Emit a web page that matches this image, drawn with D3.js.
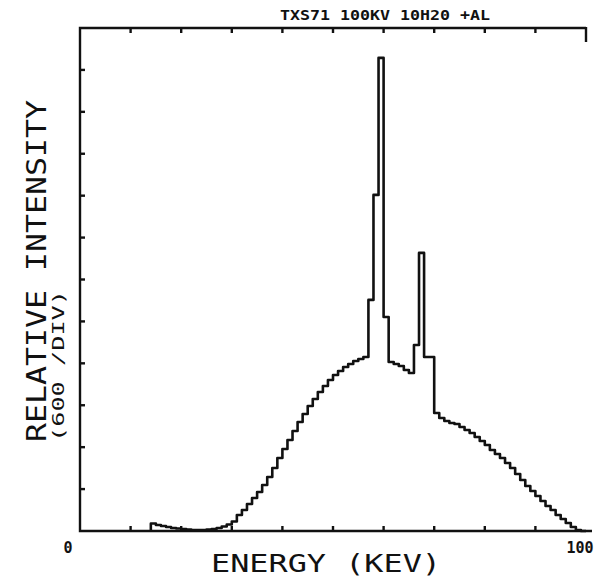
<!DOCTYPE html>
<html>
<head>
<meta charset="utf-8">
<script src="https://cdn.jsdelivr.net/npm/d3@7"></script>
<style>
  body { margin: 0; background: #fff; }
  svg { display: block; }
  text { font-family: "DejaVu Sans Mono", monospace; fill: #111; }
</style>
</head>
<body>
<svg id="chart"></svg>
<script>
// spectrum, 1 keV bins, value = counts in [keV, keV+1)
const binStart = d3.range(14, 100)
const counts = [
  107, 86, 72, 57, 43, 36, 29, 21, 14, 14,        // 14-23
  14, 21, 29, 43, 64, 93, 136, 229, 300, 387,      // 24-33
  473, 558, 659, 773, 902, 1045, 1174, 1303, 1432, 1561, // 34-43
  1675, 1790, 1890, 1990, 2076, 2162, 2234, 2291, 2348, 2391, // 44-53
  2434, 2463, 2491, 3308, 4811, 6773, 3064, 2420, 2391, 2362, // 54-63
  2305, 2262, 2663, 3981, 2491, 2491, 1690, 1618, 1575, 1547, // 64-73
  1532, 1489, 1446, 1403, 1346, 1289, 1231, 1160, 1103, 1045, // 74-83
  974, 902, 816, 730, 644, 573, 501, 430, 358, 301, // 84-93
  229, 172, 115, 57, 14, 0                          // 94-99
]
const xTicks = d3.range(10, 100, 10)
const yTicks = d3.range(600, 7200, 600)
const titleText = "TXS71  100KV 10H20 +AL"

const W = 616, H = 577
const svg = d3.select("#chart").attr("width", W).attr("height", H)

const x = d3.scaleLinear().domain([0, 100]).range([80, 586])
const y = d3.scaleLinear().domain([0, 7200]).range([531, 28])

const axisG = svg.append("g")
  .attr("stroke", "#111").attr("stroke-width", 2.4).attr("fill", "none")

// frame: left, bottom, top
axisG.append("path")
  .attr("d", `M${x(100)},${y(7200)}H${x(0)}V${y(0)}H${x(100) + 6}`)
// short stub at top right
axisG.append("path").attr("d", `M${x(100)},${y(7200) - 1}V${y(7200) + 14}`)

// ticks (pointing inward)
axisG.selectAll(".tb").data(xTicks).enter().append("line")
  .attr("x1", d => x(d)).attr("x2", d => x(d))
  .attr("y1", y(0)).attr("y2", y(0) - 5)
axisG.selectAll(".tt").data(xTicks).enter().append("line")
  .attr("x1", d => x(d)).attr("x2", d => x(d))
  .attr("y1", y(7200)).attr("y2", y(7200) + 5)
axisG.selectAll(".tl").data(yTicks).enter().append("line")
  .attr("x1", x(0)).attr("x2", x(0) + 5)
  .attr("y1", d => y(d)).attr("y2", d => y(d))

// spectrum as steps
const pts = [[14, 0]].concat(binStart.map((e, i) => [e, counts[i]]), [[100, 0]])
const line = d3.line()
  .x(d => x(d[0]))
  .y(d => y(d[1]))
  .curve(d3.curveStepAfter)
svg.append("path")
  .datum(pts)
  .attr("d", line)
  .attr("fill", "none")
  .attr("stroke", "#111")
  .attr("stroke-width", 2.6)
  .attr("stroke-linejoin", "round")

// texts
svg.append("text")
  .attr("x", 280).attr("y", 20)
  .attr("textLength", 210).attr("lengthAdjust", "spacingAndGlyphs")
  .style("font-size", "14px").style("font-weight", "bold")
  .text(titleText)

svg.append("text").attr("x", 68).attr("y", 553)
  .attr("text-anchor", "middle").style("font-size", "15px").style("font-weight", "bold")
  .text("0")
svg.append("text").attr("x", 580).attr("y", 553)
  .attr("text-anchor", "middle").style("font-size", "15px").style("font-weight", "bold")
  .text("100")

svg.append("text").attr("x", 211).attr("y", 572)
  .attr("textLength", 230).attr("lengthAdjust", "spacingAndGlyphs")
  .style("font-size", "25px")
  .text("ENERGY (KEV)")

svg.append("text")
  .attr("transform", "translate(46,442) rotate(-90)")
  .attr("textLength", 342).attr("lengthAdjust", "spacingAndGlyphs")
  .style("font-size", "27px")
  .text("RELATIVE INTENSITY")

svg.append("text")
  .attr("transform", "translate(64,442) rotate(-90)")
  .attr("textLength", 152).attr("lengthAdjust", "spacingAndGlyphs")
  .style("font-size", "16px")
  .text("(600 /DIV)")
</script>
</body>
</html>
